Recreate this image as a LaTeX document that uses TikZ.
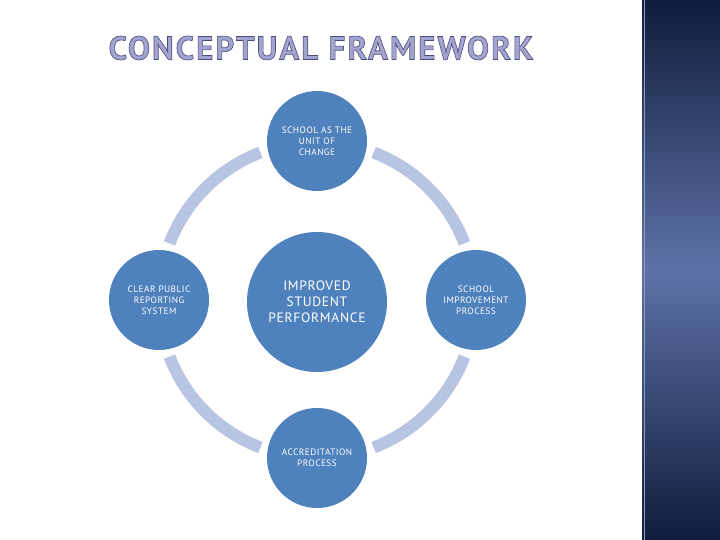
\documentclass[tikz,border=0pt]{standalone}
\usepackage{fontspec}
\usetikzlibrary{calc}
\setmainfont{PT Sans}
\newfontfamily\titlefont[LetterSpace=6]{PT Sans Bold}
\newfontfamily\bubblefont[LetterSpace=5]{PT Sans}
\begin{document}
\definecolor{circblue}{HTML}{4F81BD}
\definecolor{ringblue}{HTML}{B7C5E2}
\definecolor{navy}{HTML}{101C3C}
\definecolor{midnavy}{HTML}{5E72A8}
\definecolor{titlefill}{HTML}{A3A3D0}
\begin{tikzpicture}[x=1pt,y=-1pt,
  bubble/.style={circle,fill=circblue,text=white,align=center,inner sep=0pt,
    minimum size=100pt,font=\bubblefont\fontsize{9.3}{10.9}\selectfont},
  bigbubble/.style={bubble,minimum size=140pt,font=\bubblefont\fontsize{13.6}{16}\selectfont},
  ring/.style={ringblue,line width=12pt},
  titlestyle/.style={text=titlefill,font=\titlefont\fontsize{33}{36}\selectfont,inner sep=0pt}]
\useasboundingbox (0,0) rectangle (720,540);
\fill[white] (0,0) rectangle (720,540);
% right panel
\shade[top color=navy,bottom color=midnavy] (642,0) rectangle (720,270);
\shade[top color=midnavy,bottom color=navy] (642,270) rectangle (720,540);
\draw[midnavy!70!white,line width=1pt] (644,0) -- (644,540);
% title
\node[titlestyle] (title) at (321,48) {\special{pdf:literal direct 2 Tr 0.6 w 0.3 0.3 0.48 RG}CONCEPTUAL FRAMEWORK\special{pdf:literal direct 0 Tr}};
% ring
\coordinate (c) at (317,300);
\draw[ring] ($(c)+(111:158)$) arc[start angle=111,end angle=159,radius=158];
\draw[ring] ($(c)+(201:158)$) arc[start angle=201,end angle=249,radius=158];
\draw[ring] ($(c)+(291:158)$) arc[start angle=291,end angle=339,radius=158];
\draw[ring] ($(c)+(21:158)$) arc[start angle=21,end angle=69,radius=158];
% nodes
\node[bubble] (top) at (317,141) {SCHOOL AS THE\\UNIT OF\\CHANGE};
\node[bubble] (left) at (159,300) {CLEAR PUBLIC\\REPORTING\\SYSTEM};
\node[bubble] (right) at (476,300) {SCHOOL\\IMPROVEMENT\\PROCESS};
\node[bubble] (bottom) at (317,458) {ACCREDITATION\\PROCESS};
\node[bigbubble] (center) at (317,302) {IMPROVED\\STUDENT\\PERFORMANCE};
\end{tikzpicture}
\end{document}
